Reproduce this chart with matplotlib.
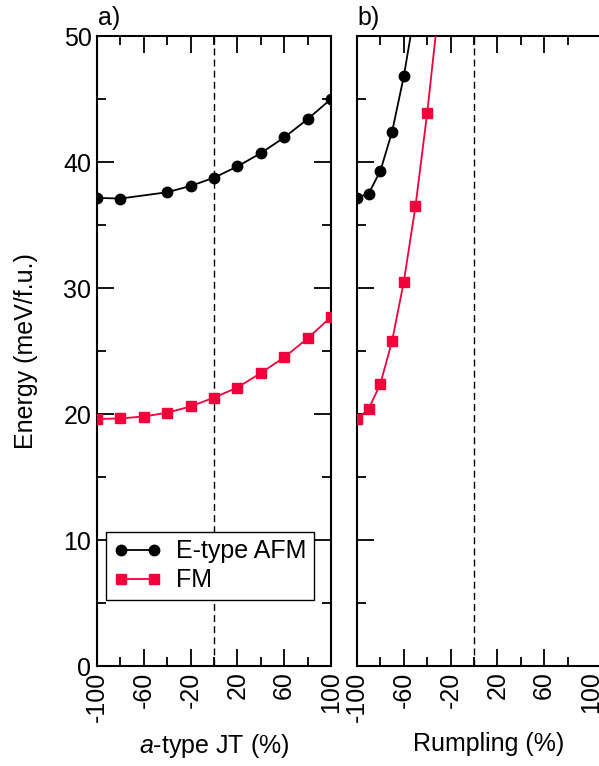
import numpy as np
import matplotlib
matplotlib.use("Agg")
import matplotlib.pyplot as plt
from matplotlib.ticker import MultipleLocator, FixedLocator

plt.rcParams['font.family'] = ['Liberation Sans', 'DejaVu Sans']
plt.rcParams['mathtext.fontset'] = 'custom'
plt.rcParams['mathtext.rm'] = 'Liberation Sans'
plt.rcParams['mathtext.it'] = 'Liberation Sans:italic'
plt.rcParams['axes.unicode_minus'] = False

# panel a: a-type JT distortion (%)
jt_afm_x = [-100, -80, -40, -20, 0, 20, 40, 60, 80, 100]
jt_afm_y = [37.15, 37.1, 37.6, 38.1, 38.75, 39.65, 40.7, 41.95, 43.4, 45.0]
jt_fm_x = [-100, -80, -60, -40, -20, 0, 20, 40, 60, 80, 100]
jt_fm_y = [19.6, 19.65, 19.8, 20.1, 20.6, 21.3, 22.1, 23.25, 24.5, 26.0, 27.7]

# panel b: rumpling (%)
rump_afm_x = [-100, -90, -80, -70, -60, -50]
rump_afm_y = [37.15, 37.5, 39.3, 42.4, 46.8, 52.3]
rump_fm_x = [-100, -90, -80, -70, -60, -50, -40, -30]
rump_fm_y = [19.6, 20.4, 22.4, 25.8, 30.5, 36.5, 43.9, 52.4]

xticks = [-100, -60, -20, 20, 60, 100]
yticks = [0, 10, 20, 30, 40, 50]

red = '#f2003c'
W, H = 599, 766
fs = 18

fig = plt.figure(figsize=(W / 100, H / 100), dpi=100)
ax1 = fig.add_axes([97 / W, 1 - 666 / H, 234 / W, 630 / H])
# right panel runs past the figure edge, like the original
ext = 30
ax2 = fig.add_axes([357 / W, 1 - 666 / H, (234 + ext) / W, 630 / H])

def style(ax, xmax):
    ax.set_xlim(-100, xmax)
    ax.set_ylim(0, 50)
    ax.xaxis.set_major_locator(FixedLocator(xticks))
    ax.xaxis.set_minor_locator(MultipleLocator(20))
    ax.yaxis.set_major_locator(FixedLocator(yticks))
    ax.yaxis.set_minor_locator(MultipleLocator(5))
    ax.tick_params(which='both', direction='in', top=True, right=True,
                   width=1.3, labelsize=fs)
    ax.tick_params(which='major', length=12.5, pad=4)
    ax.tick_params(which='minor', length=6.5)
    ax.tick_params(axis='x', labelrotation=90)
    for s in ax.spines.values():
        s.set_linewidth(1.5)
    ax.axvline(0, color='k', lw=1.0, ls=(0, (5, 3)), zorder=1)

style(ax1, 100)
style(ax2, 100 + ext * 200 / 234)
ax2.tick_params(labelleft=False)
ax2.xaxis.get_major_ticks()[-1].tick1line.set_visible(False)
ax2.xaxis.get_major_ticks()[-1].tick2line.set_visible(False)

ax1.plot(jt_afm_x, jt_afm_y, '-o', color='k', lw=1.3, ms=7.5, label='E-type AFM', zorder=3)
ax1.plot(jt_fm_x, jt_fm_y, '-s', color=red, lw=1.3, ms=6.5, label='FM', zorder=3)
ax2.plot(rump_afm_x, rump_afm_y, '-o', color='k', lw=1.3, ms=7.5, zorder=3)
ax2.plot(rump_fm_x, rump_fm_y, '-s', color=red, lw=1.3, ms=6.5, zorder=3)

ax1.set_ylabel('Energy (meV/f.u.)', fontsize=fs, labelpad=18)
ax1.set_xlabel('$a$-type JT (%)', fontsize=fs, labelpad=7)
ax2.set_xlabel('Rumpling (%)', fontsize=fs, labelpad=7)
fig.text(98 / W, 1 - 18 / H, 'a)', fontsize=fs, va='center', ha='left')
fig.text(357 / W, 1 - 18 / H, 'b)', fontsize=fs, va='center', ha='left')

leg = ax1.legend(loc='lower left', bbox_to_anchor=(0.04, 0.105), borderaxespad=0,
                 fancybox=False, edgecolor='k', framealpha=1, fontsize=fs,
                 numpoints=2, handlelength=1.9, handletextpad=0.6,
                 borderpad=0.3, labelspacing=0.2)
leg.get_frame().set_linewidth(1.0)

fig.savefig('out.png', dpi=100)
